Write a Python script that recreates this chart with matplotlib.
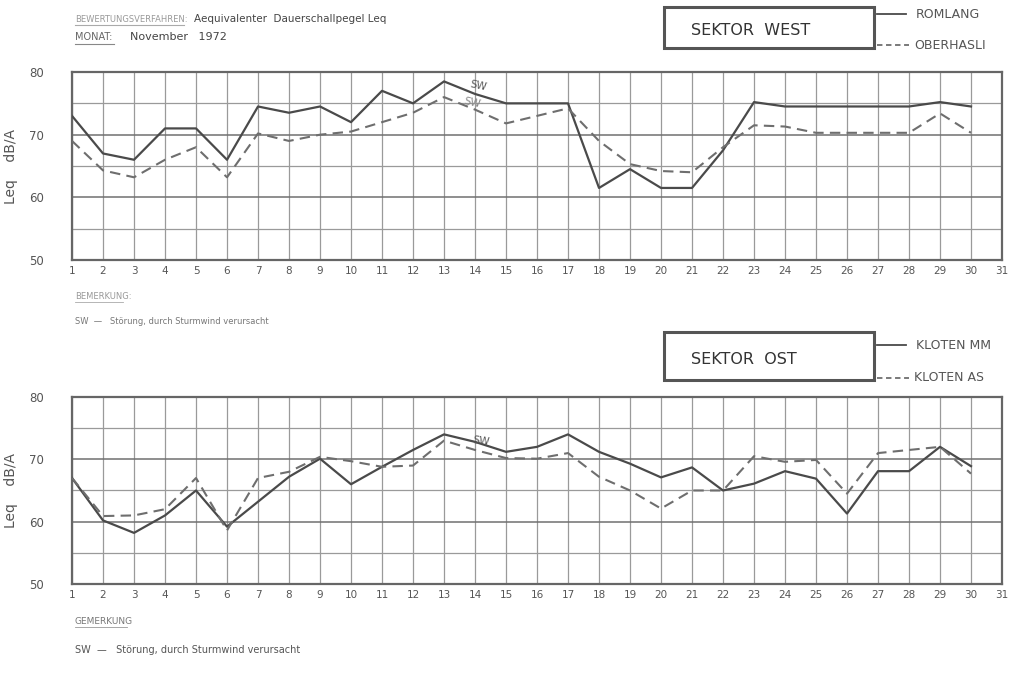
import numpy as np
import matplotlib
matplotlib.use("Agg")
import matplotlib.pyplot as plt
from matplotlib.lines import Line2D
from matplotlib.patches import Rectangle

# days of November 1972
days = np.arange(1, 31)
day_ticks = np.arange(1, 32)

# Sektor West (Leq dB/A)
romlang = [73, 67, 66, 71, 71, 66, 74.5, 73.5, 74.5, 72, 77, 75, 78.5, 76.5, 75,
           75, 75, 61.5, 64.5, 61.5, 61.5, 67.5, 75.2, 74.5, 74.5, 74.5, 74.5, 74.5, 75.2, 74.5]
oberhasli = [69, 64.3, 63.2, 66, 68, 63.2, 70.2, 69, 70, 70.5, 72, 73.5, 76, 74, 71.8,
             73, 74.2, 69, 65.3, 64.2, 64, 68, 71.5, 71.3, 70.3, 70.3, 70.3, 70.3, 73.4, 70.3]

# Sektor Ost (Leq dB/A)
kloten_mm = [67, 60.2, 58.2, 61, 65, 59.2, 63.2, 67.2, 70.1, 66, 68.8, 71.5, 74, 72.8, 71.2,
             72, 74, 71.2, 69.3, 67.1, 68.7, 65, 66.1, 68.1, 66.9, 61.3, 68.1, 68.1, 72, 68.9]
kloten_as = [67, 60.9, 61, 62, 67, 58.6, 67, 68, 70.4, 69.7, 68.8, 69, 73, 71.5, 70.2,
             70.1, 71, 67.2, 65, 62.1, 65, 65, 70.5, 69.6, 69.9, 64.5, 71, 71.5, 72, 67.7]

ink = "#4a4a4a"
ink2 = "#6e6e6e"
grid_c = "#9a9a9a"

fig = plt.figure(figsize=(10.1, 6.75), dpi=100)
fig.patch.set_facecolor("white")


def panel(rect, solid, dashed):
    ax = fig.add_axes(rect)
    ax.set_xlim(1, 31)
    ax.set_ylim(50, 80)
    for d in day_ticks:
        ax.axvline(d, color=grid_c, lw=0.9, zorder=1)
    for v in [55, 65, 75]:
        ax.axhline(v, color=grid_c, lw=0.9, zorder=1)
    for v in [60, 70]:
        ax.axhline(v, color="#707070", lw=1.1, zorder=1)
    ax.plot(days, solid, color=ink, lw=1.6, zorder=3)
    ax.plot(days, dashed, color=ink2, lw=1.5, ls=(0, (5, 3)), zorder=3)
    ax.set_xticks(day_ticks)
    ax.set_xticklabels([str(d) for d in day_ticks], fontsize=7.5, color="#555555")
    ax.set_yticks([50, 60, 70, 80])
    ax.set_yticklabels(["50", "60", "70", "80"], fontsize=8.5, color="#555555")
    ax.tick_params(length=0, pad=4)
    ax.tick_params(axis="y", pad=20)
    for s in ax.spines.values():
        s.set_color("#666666")
        s.set_linewidth(1.6)
    ax.set_ylabel("Leq    dB/A", fontsize=10, color="#555555")
    ax.yaxis.set_label_coords(-0.058, 0.5)
    return ax


ax1 = panel([0.0713, 0.6148, 0.9208, 0.2785], romlang, oberhasli)
ax1.text(13.8, 77.0, "SW", fontsize=7.5, color="#555555", rotation=-12)
ax1.text(13.6, 74.4, "SW", fontsize=7.5, color="#888888", rotation=-12)

ax2 = panel([0.0713, 0.1348, 0.9208, 0.2771], kloten_mm, kloten_as)
ax2.text(13.9, 72.3, "SW", fontsize=7.5, color="#555555", rotation=-8)

# header text
fig.text(0.074, 0.968, "BEWERTUNGSVERFAHREN:", fontsize=6, color="#999999")
fig.add_artist(Line2D([0.074, 0.182], [0.963, 0.963], color="#aaaaaa", lw=0.8))
fig.text(0.192, 0.968, "Aequivalenter  Dauerschallpegel Leq", fontsize=7.5, color="#444444")
fig.text(0.074, 0.941, "MONAT:", fontsize=7, color="#666666")
fig.add_artist(Line2D([0.074, 0.113], [0.935, 0.935], color="#888888", lw=0.8))
fig.text(0.129, 0.941, "November   1972", fontsize=8, color="#444444")

# remarks
fig.text(0.074, 0.557, "BEMERKUNG:", fontsize=6, color="#999999")
fig.add_artist(Line2D([0.074, 0.122], [0.553, 0.553], color="#aaaaaa", lw=0.6))
fig.text(0.074, 0.52, "SW  \u2014   Störung, durch Sturmwind verursacht", fontsize=6, color="#777777")
fig.text(0.074, 0.076, "GEMERKUNG", fontsize=6.5, color="#777777")
fig.add_artist(Line2D([0.074, 0.126], [0.071, 0.071], color="#999999", lw=0.6))
fig.text(0.074, 0.033, "SW  \u2014   Störung, durch Sturmwind verursacht", fontsize=7, color="#555555")


def sector_box(x0, y0, w, h, title, name1, name2, f1, f2):
    fig.add_artist(Rectangle((x0, y0), w, h, transform=fig.transFigure,
                             fill=False, ec="#555555", lw=2.2))
    fig.text(x0 + 0.027, y0 + h * 0.42, title, fontsize=11.5, color="#333333", va="center")
    fig.add_artist(Line2D([0.868, 0.897], [y0 + h * f1, y0 + h * f1], color=ink, lw=1.3))
    fig.text(0.907, y0 + h * f1, name1, fontsize=9, color="#555555", va="center")
    fig.add_artist(Line2D([0.868, 0.900], [y0 + h * f2, y0 + h * f2], color=ink2,
                          lw=1.3, ls=(0, (3, 2))))
    fig.text(0.905, y0 + h * f2, name2, fontsize=9, color="#555555", va="center")


sector_box(0.657, 0.929, 0.208, 0.061, "SEKTOR  WEST", "ROMLANG", "OBERHASLI", 0.82, 0.07)
sector_box(0.657, 0.437, 0.208, 0.071, "SEKTOR  OST", "KLOTEN MM", "KLOTEN AS", 0.73, 0.05)

fig.savefig("out.png", dpi=100, facecolor="white")
